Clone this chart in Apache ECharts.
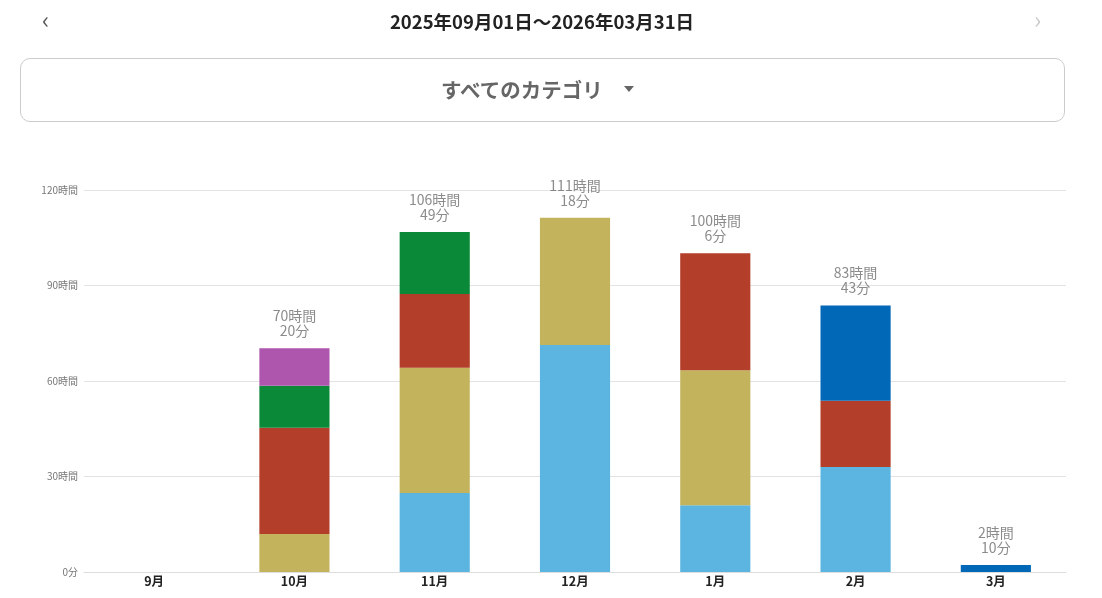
<!DOCTYPE html>
<html>
<head>
<meta charset="utf-8">
<script src="https://cdn.jsdelivr.net/npm/echarts@6/dist/echarts.min.js"></script>
<style>
  html, body { margin: 0; padding: 0; background: #fff; font-family: "Noto Sans CJK JP", sans-serif; }
  #main { position: absolute; left: 0; top: 0; width: 1102px; height: 598px; }
  .title { position: absolute; left: 0; width: 1084px; top: 6px; text-align: center; font-size: 18.5px; font-weight: bold; color: #222; line-height: 30px; }
  .nav { position: absolute; top: 4px; font-size: 24px; line-height: 30px; }
  .box { position: absolute; left: 20px; top: 58px; width: 1045px; height: 64px; border: 1px solid #ccc; border-radius: 10px; box-sizing: border-box; }
  .cat { position: absolute; left: 441px; top: 73px; font-size: 20.5px; font-weight: bold; color: #666; line-height: 32px; white-space: nowrap; }
  .tri { position: absolute; left: 624px; top: 86px; width: 0; height: 0; border-left: 5px solid transparent; border-right: 5px solid transparent; border-top: 6px solid #666; }
</style>
</head>
<body>
<div id="main"></div>
<div class="nav" style="left:42px;color:#555;">&#8249;</div>
<div class="nav" style="left:1034px;color:#ccc;">&#8250;</div>
<div class="title">2025年09月01日～2026年03月31日</div>
<div class="box"></div>
<div class="cat">すべてのカテゴリ</div>
<div class="tri"></div>
<script>
// 月ごとのカテゴリ別時間（時間単位）
var months = ['9月', '10月', '11月', '12月', '1月', '2月', '3月'];
var lightBlue = [0, 0, 24.8, 71.3, 21.0, 33.0, 0];
var gold      = [0, 11.9, 39.4, 40.0, 42.4, 0, 0];
var red       = [0, 33.4, 23.1, 0, 36.7, 20.8, 0];
var green     = [0, 13.2, 19.5, 0, 0, 0, 0];
var purple    = [0, 11.8, 0, 0, 0, 0, 0];
var darkBlue  = [0, 0, 0, 0, 0, 29.9, 2.17];
// 合計（分）
var totalMinutes = [0, 4220, 6409, 6678, 6006, 5023, 130];

var colors = ['#5bb5e0', '#c2b35c', '#b33e29', '#0a8a38', '#ae55ae', '#0068b7'];
var stacks = [lightBlue, gold, red, green, purple, darkBlue];

var chart = echarts.init(document.getElementById('main'));

var series = stacks.map(function (d, i) {
  return {
    type: 'bar',
    stack: 'total',
    barWidth: '50%',
    data: d,
    itemStyle: { color: colors[i] },
    emphasis: { disabled: true }
  };
});

// 合計ラベル
series.push({
  type: 'scatter',
  symbolSize: 0,
  data: totalMinutes.map(function (m) { return m / 60; }),
  label: {
    show: true,
    position: 'top',
    distance: 10,
    color: '#6e6e6e',
    fontSize: 14,
    lineHeight: 15,
    fontFamily: 'Noto Sans CJK JP',
    formatter: function (p) {
      var m = totalMinutes[p.dataIndex];
      if (!m) return '';
      return Math.floor(m / 60) + '時間\n' + (m % 60) + '分';
    }
  },
  silent: true
});

var option = {
  animation: false,
  backgroundColor: '#fff',
  grid: { left: 84, right: 36, top: 190, bottom: 26 },
  xAxis: {
    type: 'category',
    data: months,
    axisLine: { lineStyle: { color: '#ddd' } },
    axisTick: { show: false },
    axisLabel: { color: '#222', fontWeight: 'bold', fontSize: 12.5, margin: 3, fontFamily: 'Noto Sans CJK JP' }
  },
  yAxis: {
    type: 'value',
    min: 0,
    max: 120,
    interval: 30,
    axisLine: { show: false },
    axisTick: { show: false },
    splitLine: { lineStyle: { color: '#e3e3e3' } },
    axisLabel: {
      color: '#777',
      fontSize: 10,
      margin: 6,
      fontFamily: 'Noto Sans CJK JP',
      formatter: function (v) { return v === 0 ? '0分' : v + '時間'; }
    }
  },
  series: series
};

chart.setOption(option);
</script>
</body>
</html>
